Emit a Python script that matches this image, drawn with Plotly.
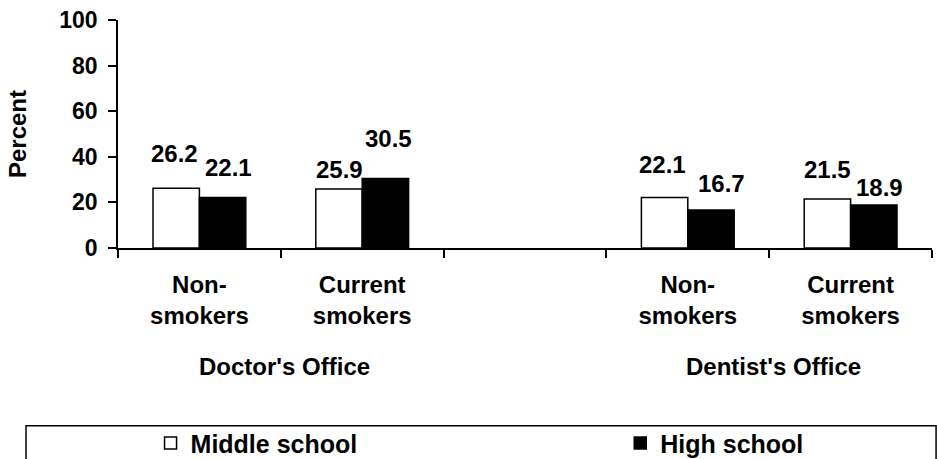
import plotly.graph_objects as go

# Category slots along the x axis (the empty slot separates the two settings)
category_ids = ["doc_non", "doc_cur", "spacer", "den_non", "den_cur"]
category_text = ["Non-<br>smokers", "Current<br>smokers", "", "Non-<br>smokers", "Current<br>smokers"]
bar_categories = ["doc_non", "doc_cur", "den_non", "den_cur"]

# Percent exposed, by school level
middle_school = [26.2, 25.9, 22.1, 21.5]
high_school = [22.1, 30.5, 16.7, 18.9]

# Setting labels under each pair of categories
settings = ["Doctor's Office", "Dentist's Office"]
setting_members = [["doc_non", "doc_cur"], ["den_non", "den_cur"]]

y_ticks = [0, 20, 40, 60, 80, 100]

# Small label nudges in pixels (dx, dy above the bar top) per series
middle_dx = [-2, 0, -2, 0]
middle_dy = [25, 10, 24, 20]
high_dx = [6, 3, 10, 6]
high_dy = [21, 30, 17, 8]

FONT = "Liberation Sans, Arial, sans-serif"
BARGAP = 0.43

fig = go.Figure()
fig.add_trace(go.Bar(
    x=bar_categories, y=middle_school, name="Middle school", legend="legend",
    marker=dict(color="white", line=dict(color="black", width=1.5)),
))
fig.add_trace(go.Bar(
    x=bar_categories, y=high_school, name="High school", legend="legend2",
    marker=dict(color="black", line=dict(color="black", width=1.5)),
))

annotations = []
half = (1 - BARGAP) / 4
for series, dxs, dys, side in ((middle_school, middle_dx, middle_dy, -1),
                               (high_school, high_dx, high_dy, 1)):
    for cat, val, dx, dy in zip(bar_categories, series, dxs, dys):
        idx = category_ids.index(cat)
        annotations.append(dict(
            x=idx + side * half, y=val, xref="x", yref="y",
            text=f"{val:.1f}", showarrow=False,
            xanchor="center", yanchor="bottom",
            xshift=dx, yshift=dy - 6,
            font=dict(family=FONT, size=24, color="black", weight="bold"),
        ))

for name, members in zip(settings, setting_members):
    idxs = [category_ids.index(m) for m in members]
    annotations.append(dict(
        x=sum(idxs) / len(idxs), y=0, xref="x", yref="y",
        text=name, showarrow=False, xanchor="center", yanchor="top",
        xshift=4, yshift=-103,
        font=dict(family=FONT, size=24, color="black", weight="bold"),
    ))

legend_style = dict(
    orientation="h", xanchor="left", yanchor="top", y=-0.755,
    font=dict(family=FONT, size=25, color="black", weight="bold"),
    bgcolor="rgba(0,0,0,0)", borderwidth=0,
)

fig.update_layout(
    width=937, height=459, autosize=False,
    margin=dict(l=118, r=5, t=20, b=211, autoexpand=False),
    paper_bgcolor="white", plot_bgcolor="white",
    font=dict(family=FONT, size=23, color="black", weight="bold"),
    barmode="group", bargap=BARGAP, bargroupgap=0,
    showlegend=True,
    legend=dict(x=0.040, **legend_style),
    legend2=dict(x=0.617, **legend_style),
    xaxis=dict(
        type="category", categoryorder="array", categoryarray=category_ids,
        tickvals=category_ids, ticktext=category_text,
        tickson="boundaries", ticks="outside", ticklen=8, tickwidth=1.5,
        tickcolor="black", showline=True, linecolor="black", linewidth=1.5,
        showgrid=False, zeroline=False, range=[-0.5, 4.5], automargin=False,
        ticklabelstandoff=14,
        tickfont=dict(family=FONT, size=24, color="black", weight="bold"),
    ),
    yaxis=dict(
        range=[0, 100], tickvals=y_ticks, ticks="outside", ticklen=8,
        tickwidth=1.5, tickcolor="black", showline=True, linecolor="black",
        linewidth=1.5, showgrid=False, zeroline=False, automargin=False,
        ticklabelstandoff=6,
        tickfont=dict(family=FONT, size=23, color="black", weight="bold"),
        title=dict(text="Percent", standoff=26,
                   font=dict(family=FONT, size=24, color="black", weight="bold")),
    ),
    annotations=annotations,
    shapes=[dict(
        type="rect", xref="paper", yref="paper",
        x0=-0.113, x1=1.005, y0=-0.78, y1=-1.1,
        line=dict(color="black", width=1.5), fillcolor="rgba(0,0,0,0)",
        layer="above",
    )],
)

fig.write_html("out.html")
